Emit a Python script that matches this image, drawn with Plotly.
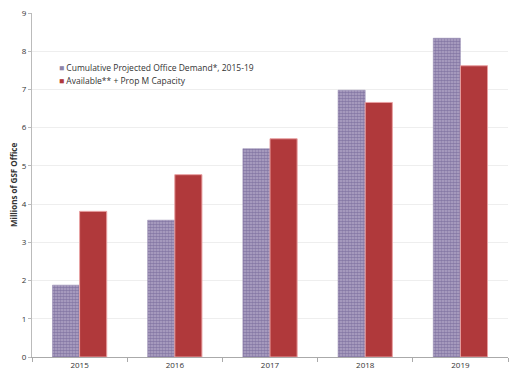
import plotly.graph_objects as go

years = ["2015", "2016", "2017", "2018", "2019"]
demand = [1.88, 3.58, 5.45, 6.98, 8.34]
capacity = [3.81, 4.77, 5.71, 6.66, 7.62]
series_names = ["Cumulative Projected Office Demand*, 2015-19", "Available** + Prop M Capacity"]
legend_colors = ["#8f84a8", "#b0393b"]

fig = go.Figure()
fig.add_trace(go.Bar(
    x=years, y=demand, name=series_names[0],
    marker=dict(color="#b3a9c8", line=dict(width=0.5, color="#8a7ea8"),
                pattern=dict(shape=".", fgcolor="#5a4a84", size=3, solidity=0.65)),
))
fig.add_trace(go.Bar(
    x=years, y=capacity, name=series_names[1],
    marker=dict(color="#b0393b", line=dict(width=1, color="#e8a0a2")),
))

for i, (name, col) in enumerate(zip(series_names, legend_colors)):
    fig.add_annotation(
        xref="paper", yref="paper", x=0.052, y=0.843 - i * 0.04,
        xanchor="left", yanchor="middle", showarrow=False,
        text=f"<span style='color:{col}'>■</span> {name}",
        font=dict(size=8.5, color="#333"),
    )

fig.update_layout(
    width=512, height=369,
    margin=dict(l=24, r=12, t=5, b=20, autoexpand=False),
    paper_bgcolor="white", plot_bgcolor="white",
    barmode="group", bargap=0.43, bargroupgap=0,
    font=dict(family="Open Sans, Liberation Sans, sans-serif", size=8, color="#333"),
    showlegend=False,
)
fig.update_xaxes(
    automargin=False,
    showline=True, linecolor="#aaa", linewidth=1,
    ticks="outside", tickson="boundaries", ticklen=4, tickcolor="#aaa",
    tickfont=dict(size=8),
)
fig.update_yaxes(
    automargin=False, ticklabeloverflow="allow",
    range=[0, 9], dtick=1, showgrid=True, gridcolor="#eeeeee",
    showline=True, linecolor="#bbb", linewidth=1,
    ticks="outside", ticklen=3, tickcolor="#bbb",
    tickfont=dict(size=8),
    title=dict(text="<b>Millions of GSF Office</b>", font=dict(size=8), standoff=4),
    zeroline=False,
)
fig.write_html("out.html")
